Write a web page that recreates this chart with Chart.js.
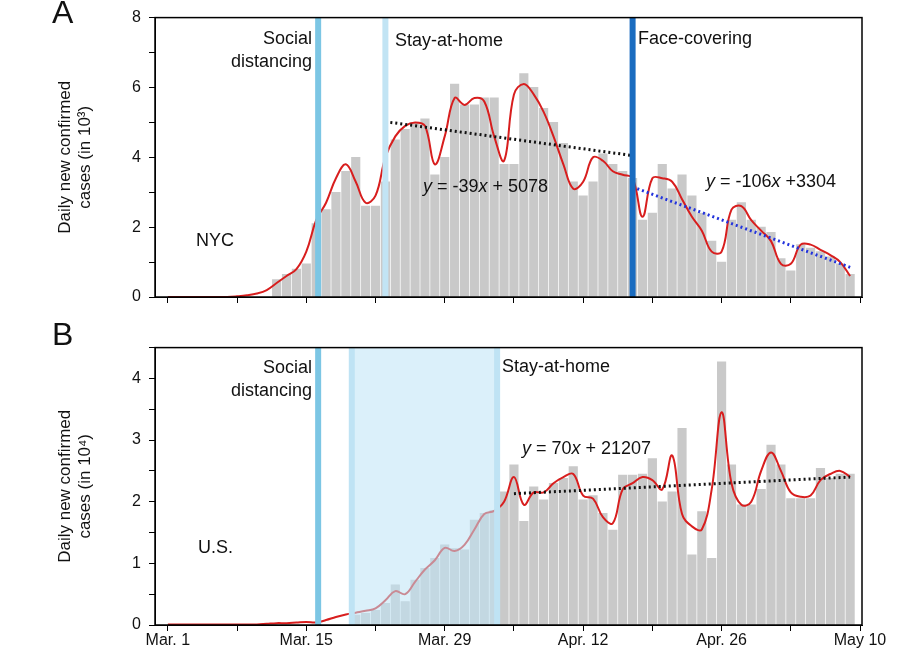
<!doctype html>
<html lang="en">
<head>
<meta charset="utf-8" />
<title>Daily new confirmed cases</title>
<script src="https://cdn.jsdelivr.net/npm/chart.js@4.4.1/dist/chart.umd.min.js"></script>
<style>
    body { margin: 0; background: #fff; font-family: "Liberation Sans", Arial, sans-serif; }
    #wrap { position: relative; width: 900px; height: 660px; }
    #chartA { position: absolute; left: 0; top: 0; }
    #chartB { position: absolute; left: 0; top: 330px; }
    .panel { position: absolute; font-size: 32px; color: #111; }
</style>
</head>
<body>
<div id="wrap">
    <canvas id="chartA" width="900" height="320"></canvas>
    <canvas id="chartB" width="900" height="330"></canvas>
    <div class="panel" style="left:52px; top:-6px;">A</div>
    <div class="panel" style="left:52px; top:316px;">B</div>
</div>
<script>
// day index 0 = Mar. 1, 70 = May 10
const tickDays = [0, 14, 28, 42, 56, 70];
const tickLabels = ['Mar. 1', 'Mar. 15', 'Mar. 29', 'Apr. 12', 'Apr. 26', 'May 10'];

// NYC daily cases (in 10^3), days 11..69
const nycStart = 11;
const nycBars = [0.5, 0.65, 0.8, 0.95, 2.1, 2.5, 3.0, 3.6, 4.0, 2.6, 2.6, 3.3, 4.5, 4.8, 5.0, 5.1, 3.5, 4.0,
    6.1, 5.5, 5.5, 5.7, 5.7, 3.8, 3.8, 6.4, 6.0, 5.4, 5.0, 4.4, 3.3, 2.9, 3.3, 4.1, 3.8, 3.6, 3.4,
    2.2, 2.4, 3.8, 3.1, 3.5, 2.9, 2.4, 1.6, 1.0, 2.2, 2.7, 2.2, 2.0, 1.85, 1.1, 0.75, 1.5, 1.4, 1.3, 1.15, 0.95, 0.65];
// NYC smoothed curve, days 0..69
const nycCurve = [0, 0, 0, 0, 0, 0, 0, 0.02, 0.05, 0.1, 0.2, 0.4, 0.6, 0.8, 1.3, 2.2, 2.7, 3.4, 3.8, 3.3,
    2.7, 2.9, 4.0, 4.6, 4.9, 5.0, 4.9, 3.8, 4.6, 5.7, 5.5, 5.7, 5.6, 4.6, 3.9, 5.8, 6.1, 5.8, 5.3, 4.6,
    3.8, 3.1, 3.3, 4.0, 3.9, 3.6, 3.5, 3.4, 2.3, 3.4, 3.4, 3.3, 2.8, 2.3, 1.9, 1.3, 1.3, 2.5, 2.6, 2.2,
    1.9, 1.6, 0.95, 0.95, 1.5, 1.5, 1.35, 1.2, 1.0, 0.6];
const nycTrend1 = [[22.5, 5.0], [47, 4.05]];
const nycTrend2 = [[47, 3.15], [69, 0.85]];

// U.S. daily cases (in 10^4), days 19..69
const usStart = 19;
const usBars = [0.16, 0.19, 0.24, 0.35, 0.65, 0.38, 0.73, 0.92, 1.08, 1.3, 1.24, 1.22, 1.7, 1.81, 1.86,
    2.16, 2.6, 1.68, 2.24, 2.03, 2.3, 2.38, 2.57, 2.03, 2.1, 1.81, 1.54, 2.43, 2.43, 2.45, 2.7, 2.0,
    2.16, 3.19, 1.14, 1.84, 1.08, 4.27, 2.6, 1.95, 1.95, 2.2, 2.92, 2.6, 2.05, 2.05, 2.05, 2.54, 2.38, 2.45, 2.45];
const usCurve = [0.01, 0.01, 0.01, 0.01, 0.01, 0.01, 0.01, 0.01, 0.01, 0.01, 0.02, 0.03, 0.03, 0.04, 0.05,
    0.04, 0.08, 0.13, 0.17, 0.2, 0.23, 0.27, 0.4, 0.55, 0.5, 0.7, 0.9, 1.05, 1.25, 1.2, 1.3, 1.55, 1.8,
    1.85, 2.0, 2.4, 1.95, 2.15, 2.15, 2.3, 2.4, 2.45, 2.1, 2.05, 1.75, 1.65, 2.2, 2.3, 2.4, 2.35, 2.2,
    2.75, 1.8, 1.6, 1.55, 2.2, 3.45, 2.3, 1.95, 2.0, 2.5, 2.8, 2.5, 2.15, 2.08, 2.1, 2.35, 2.45, 2.5, 2.4];
const usTrend = [[35, 2.13], [69, 2.4]];

const FONT = '"Liberation Sans", Arial, sans-serif';

function pts(start, vals) { return vals.map((v, i) => ({ x: start + i, y: v })); }
function xy(arr) { return arr.map(p => ({ x: p[0], y: p[1] })); }

// draws frame, policy lines and the labels
function overlay(marks, texts) {
    return {
        id: 'overlay',
        afterDatasetsDraw(chart) {
            const c = chart.ctx, a = chart.chartArea, xs = chart.scales.x;
            c.save();
            marks.forEach(m => {
                if (m.band) {
                    const x0 = xs.getPixelForValue(m.band[0]), x1 = xs.getPixelForValue(m.band[1]);
                    c.fillStyle = 'rgba(190,228,245,0.55)';
                    c.fillRect(x0, a.top, x1 - x0, a.bottom - a.top);
                    c.fillStyle = '#bfe3f4';
                    c.fillRect(x0 - 3, a.top, 6, a.bottom - a.top);
                    c.fillRect(x1 - 3, a.top, 6, a.bottom - a.top);
                } else {
                    const x = xs.getPixelForValue(m.day);
                    c.fillStyle = m.color;
                    c.fillRect(x - 3, a.top, 6, a.bottom - a.top);
                }
            });
            c.strokeStyle = '#000';
            c.lineWidth = 1.5;
            c.strokeRect(a.left, a.top, a.right - a.left, a.bottom - a.top);
            c.fillStyle = '#111';
            c.textBaseline = 'alphabetic';
            texts.forEach(t => {
                let x = t.x;
                if (t.align === 'right') {
                    c.font = '18px ' + FONT;
                    x -= c.measureText(t.parts.map(p => p[0]).join('')).width;
                }
                t.parts.forEach(p => {
                    c.font = (p[1] ? 'italic ' : '') + '18px ' + FONT;
                    c.fillText(p[0], x, t.y);
                    x += c.measureText(p[0]).width;
                });
            });
            c.restore();
        }
    };
}

function makeChart(id, bars, barStart, curve, trends, yMax, yTitle, showX, marks, texts) {
    const datasets = [
        { type: 'line', data: pts(0, curve), borderColor: '#d81e1e', borderWidth: 2, pointRadius: 0, tension: 0.4, order: 1 },
        { type: 'bar', data: pts(barStart, bars), backgroundColor: '#c9c9c9', barThickness: 8.5, order: 3 }
    ];
    trends.forEach(t => datasets.push({
        type: 'line', data: xy(t.pts), borderColor: t.color, borderWidth: 3, borderDash: [2, 3],
        pointRadius: 0, order: 0
    }));
    return new Chart(document.getElementById(id), {
        data: { datasets },
        options: {
            responsive: false,
            animation: false,
            layout: { padding: { left: 55, top: 15, right: 38, bottom: 0 } },
            plugins: { legend: { display: false }, tooltip: { enabled: false } },
            scales: {
                x: {
                    type: 'linear', min: -1.3, max: 70.2, offset: false,
                    afterBuildTicks: s => { s.ticks = [0, 7, 14, 21, 28, 35, 42, 49, 56, 63, 70].map(v => ({ value: v })); },
                    afterFit: s => { s.height = showX ? 35 : 23; },
                    grid: { drawOnChartArea: false, offset: false, tickLength: 6, color: '#000' },
                    border: { color: '#000' },
                    ticks: {
                        display: showX, maxRotation: 0, autoSkip: false, color: '#111', font: { size: 16, family: FONT }, padding: 0,
                        callback: v => { const i = tickDays.indexOf(v); return i >= 0 ? tickLabels[i] : ''; }
                    }
                },
                y: {
                    min: 0, max: yMax,
                    afterBuildTicks: s => {
                        const t = []; for (let v = 0; v <= yMax + 1e-9; v += yMax > 5 ? 1 : 0.5) t.push({ value: v });
                        s.ticks = t;
                    },
                    afterFit: s => { s.width = 100; },
                    grid: { drawOnChartArea: false, tickLength: 6, color: '#000' },
                    border: { color: '#000' },
                    title: { display: true, text: yTitle, color: '#111', font: { size: 17, family: FONT }, padding: 0 },
                    ticks: {
                        color: '#111', font: { size: 16, family: FONT }, padding: 8,
                        callback: v => (yMax > 5 ? (v % 2 === 0 ? v : '') : (Number.isInteger(v) ? v : ''))
                    }
                }
            }
        },
        plugins: [overlay(marks, texts)]
    });
}

makeChart('chartA', nycBars, nycStart, nycCurve,
    [{ pts: nycTrend1, color: '#111' }, { pts: nycTrend2, color: '#2233dd' }],
    8, ['Daily new confirmed', 'cases (in 10³)'], false,
    [{ day: 15.2, color: '#7cc6e4' }, { day: 22, color: '#c2e4f4' }, { day: 47, color: '#1a6cc0' }],
    [
        { x: 312, y: 44, align: 'right', parts: [['Social']] },
        { x: 312, y: 67, align: 'right', parts: [['distancing']] },
        { x: 395, y: 46, parts: [['Stay-at-home']] },
        { x: 638, y: 44, parts: [['Face-covering']] },
        { x: 196, y: 246, parts: [['NYC']] },
        { x: 423, y: 192, parts: [['y', true], [' = -39'], ['x', true], [' + 5078']] },
        { x: 706, y: 187, parts: [['y', true], [' = -106'], ['x', true], [' +3304']] }
    ]);

makeChart('chartB', usBars, usStart, usCurve,
    [{ pts: usTrend, color: '#111' }],
    4.5, ['Daily new confirmed', 'cases (in 10⁴)'], true,
    [{ day: 15.2, color: '#7cc6e4' }, { band: [18.6, 33.3] }],
    [
        { x: 312, y: 43, align: 'right', parts: [['Social']] },
        { x: 312, y: 66, align: 'right', parts: [['distancing']] },
        { x: 502, y: 42, parts: [['Stay-at-home']] },
        { x: 198, y: 223, parts: [['U.S.']] },
        { x: 522, y: 124, parts: [['y', true], [' = 70'], ['x', true], [' + 21207']] }
    ]);
</script>
</body>
</html>
